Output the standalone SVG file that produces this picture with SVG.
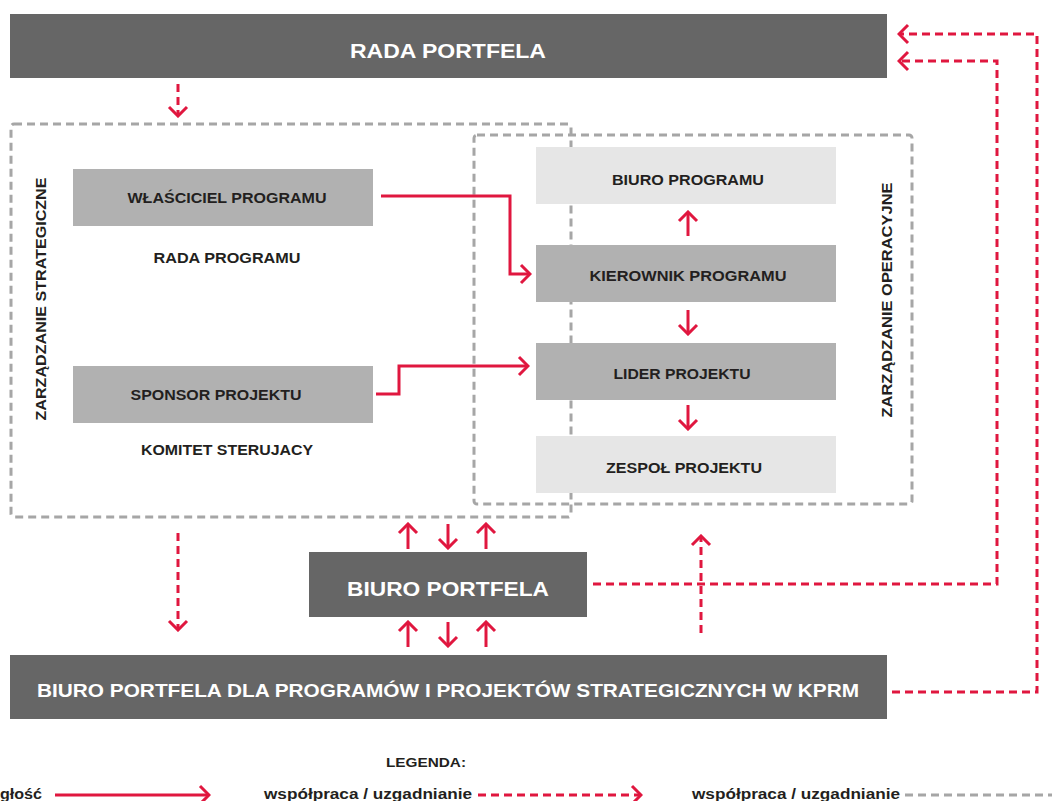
<svg xmlns="http://www.w3.org/2000/svg" width="1052" height="801" viewBox="0 0 1052 801">
<style>
.t{font-family:"Liberation Sans",Arial,sans-serif;font-weight:bold;fill:#231f20;text-anchor:middle}
.w{fill:#ffffff}
.dark{fill:#666666}
.mid{fill:#b1b1b1}
.light{fill:#e6e6e6}
.solid{fill:none;stroke:#e0173f;stroke-width:3}
.rdash{fill:none;stroke:#e0173f;stroke-width:3;stroke-dasharray:8 5}
.gdash{fill:none;stroke:#a6a6a6;stroke-width:3;stroke-dasharray:8 5}
</style>
<defs>
<marker id="ah" markerUnits="userSpaceOnUse" markerWidth="14" markerHeight="22" viewBox="0 0 14 22" refX="12" refY="11" orient="auto">
<path d="M3,2 L12,11 L3,20" fill="none" stroke="#e0173f" stroke-width="3" stroke-dasharray="none"/>
</marker>
</defs>
<rect width="1052" height="801" fill="#ffffff"/>

<g id="rada-portfela">
<rect class="dark" x="10" y="14" width="877" height="64"/>
<text class="t w" x="448" y="58" font-size="21" textLength="196" lengthAdjust="spacingAndGlyphs">RADA PORTFELA</text>
</g>

<g id="zarzadzanie-strategiczne">
<rect class="gdash" x="11" y="124" width="560" height="393" rx="3"/>
<text class="t" transform="translate(46,299) rotate(-90)" font-size="15" textLength="243" lengthAdjust="spacingAndGlyphs">ZARZĄDZANIE STRATEGICZNE</text>
</g>

<g id="zarzadzanie-operacyjne">
<rect class="gdash" x="474" y="135" width="438" height="369" rx="3"/>
<text class="t" transform="translate(892,300) rotate(-90)" font-size="15" textLength="235" lengthAdjust="spacingAndGlyphs">ZARZĄDZANIE OPERACYJNE</text>
</g>

<g id="wlasciciel-programu">
<rect class="mid" x="73" y="169" width="300" height="57"/>
<text class="t" x="227" y="203" font-size="14.5" textLength="199" lengthAdjust="spacingAndGlyphs">WŁAŚCICIEL PROGRAMU</text>
</g>
<g id="rada-programu">
<text class="t" x="227" y="263" font-size="14.5" textLength="147" lengthAdjust="spacingAndGlyphs">RADA PROGRAMU</text>
</g>
<g id="sponsor-projektu">
<rect class="mid" x="73" y="366" width="300" height="57"/>
<text class="t" x="216" y="400" font-size="14.5" textLength="171" lengthAdjust="spacingAndGlyphs">SPONSOR PROJEKTU</text>
</g>
<g id="komitet-sterujacy">
<text class="t" x="227" y="455" font-size="14.5" textLength="172" lengthAdjust="spacingAndGlyphs">KOMITET STERUJACY</text>
</g>

<g id="biuro-programu">
<rect class="light" x="536" y="147" width="300" height="57"/>
<text class="t" x="688" y="185" font-size="14.5" textLength="152" lengthAdjust="spacingAndGlyphs">BIURO PROGRAMU</text>
</g>
<g id="kierownik-programu">
<rect class="mid" x="536" y="245" width="300" height="57"/>
<text class="t" x="688" y="281" font-size="14.5" textLength="197" lengthAdjust="spacingAndGlyphs">KIEROWNIK PROGRAMU</text>
</g>
<g id="lider-projektu">
<rect class="mid" x="536" y="343" width="300" height="57"/>
<text class="t" x="682" y="379" font-size="14.5" textLength="137" lengthAdjust="spacingAndGlyphs">LIDER PROJEKTU</text>
</g>
<g id="zespol-projektu">
<rect class="light" x="536" y="436" width="300" height="57"/>
<text class="t" x="684" y="473" font-size="14.5" textLength="156" lengthAdjust="spacingAndGlyphs">ZESPOŁ PROJEKTU</text>
</g>

<g id="biuro-portfela">
<rect class="dark" x="309" y="552" width="278" height="65"/>
<text class="t w" x="448" y="596" font-size="21" textLength="202" lengthAdjust="spacingAndGlyphs">BIURO PORTFELA</text>
</g>

<g id="biuro-portfela-kprm">
<rect class="dark" x="10" y="655" width="877" height="64"/>
<text class="t w" x="448" y="697" font-size="19" textLength="822" lengthAdjust="spacingAndGlyphs">BIURO PORTFELA DLA PROGRAMÓW I PROJEKTÓW STRATEGICZNYCH W KPRM</text>
</g>

<g id="connectors">
<path class="rdash" d="M178,84 V116" marker-end="url(#ah)"/>
<path class="rdash" d="M178,533 V630" marker-end="url(#ah)"/>
<path class="solid" d="M381,196 H510 V274 H530" marker-end="url(#ah)"/>
<path class="solid" d="M376,394 H399 V366 H528" marker-end="url(#ah)"/>
<path class="solid" d="M688,236 V212" marker-end="url(#ah)"/>
<path class="solid" d="M688,310 V334" marker-end="url(#ah)"/>
<path class="solid" d="M688,405 V429" marker-end="url(#ah)"/>
<path class="solid" d="M408,549 V524" marker-end="url(#ah)"/>
<path class="solid" d="M448,524 V548" marker-end="url(#ah)"/>
<path class="solid" d="M486,549 V524" marker-end="url(#ah)"/>
<path class="solid" d="M408,647 V622" marker-end="url(#ah)"/>
<path class="solid" d="M448,622 V646" marker-end="url(#ah)"/>
<path class="solid" d="M486,647 V622" marker-end="url(#ah)"/>
<path class="rdash" d="M701,633 V536" marker-end="url(#ah)"/>
<path class="rdash" d="M593,584 H997 V61 H899" marker-end="url(#ah)"/>
<path class="rdash" d="M892,692 H1037 V34 H899" marker-end="url(#ah)"/>
</g>

<g id="legend">
<text class="t" x="426" y="767" font-size="13" textLength="80" lengthAdjust="spacingAndGlyphs">LEGENDA:</text>
<text class="t" x="42" y="799" font-size="14" style="text-anchor:end" textLength="42" lengthAdjust="spacingAndGlyphs">głość</text>
<path class="solid" d="M55,795 H209" marker-end="url(#ah)"/>
<text class="t" x="368" y="799" font-size="14" textLength="208" lengthAdjust="spacingAndGlyphs">współpraca / uzgadnianie</text>
<path class="rdash" d="M478,795 H641" marker-end="url(#ah)"/>
<text class="t" x="796" y="799" font-size="14" textLength="208" lengthAdjust="spacingAndGlyphs">współpraca / uzgadnianie</text>
<path class="gdash" d="M905,795 H1052"/>
</g>
</svg>
